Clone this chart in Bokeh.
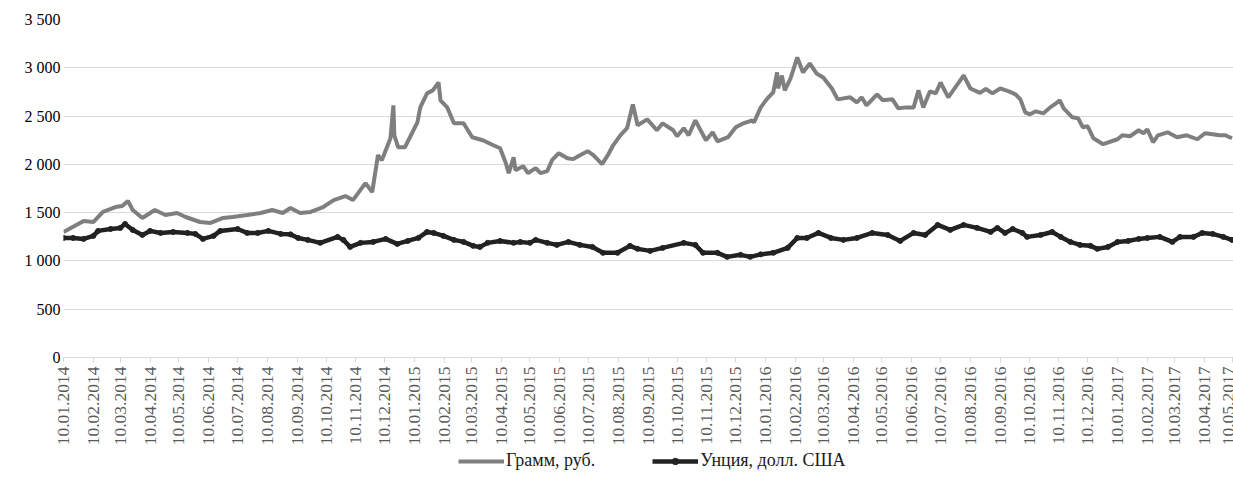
import pandas as pd
from math import pi
from bokeh.plotting import figure
from bokeh.layouts import column
from bokeh.models import (ColumnDataSource, FixedTicker, DatetimeTickFormatter,
                          Range1d, Legend, LegendItem)
from bokeh.embed import file_html
from bokeh.resources import INLINE

# ---------------- data ----------------
gram_dates = [
    "2014-01-10", "2014-01-31", "2014-02-10", "2014-02-20", "2014-03-05", "2014-03-12",
    "2014-03-18", "2014-03-23", "2014-04-02", "2014-04-15", "2014-04-26", "2014-05-08",
    "2014-05-17", "2014-06-01", "2014-06-12", "2014-06-25", "2014-07-05", "2014-07-20",
    "2014-08-03", "2014-08-15", "2014-08-26", "2014-09-03", "2014-09-13", "2014-09-24",
    "2014-10-07", "2014-10-18", "2014-10-30", "2014-11-07", "2014-11-20", "2014-11-27",
    "2014-12-03", "2014-12-07", "2014-12-16", "2014-12-19", "2014-12-20", "2014-12-24",
    "2014-12-31", "2015-01-13", "2015-01-16", "2015-01-23", "2015-01-29", "2015-02-04",
    "2015-02-06", "2015-02-13", "2015-02-20", "2015-03-02", "2015-03-11", "2015-03-22",
    "2015-04-02", "2015-04-09", "2015-04-15", "2015-04-18", "2015-04-23", "2015-04-25",
    "2015-05-03", "2015-05-08", "2015-05-16", "2015-05-21", "2015-05-28", "2015-06-02",
    "2015-06-09", "2015-06-18", "2015-06-24", "2015-07-01", "2015-07-09", "2015-07-15",
    "2015-07-24", "2015-07-30", "2015-08-04", "2015-08-12", "2015-08-19", "2015-08-25",
    "2015-08-30", "2015-09-09", "2015-09-19", "2015-09-25", "2015-10-06", "2015-10-10",
    "2015-10-17", "2015-10-22", "2015-10-29", "2015-11-09", "2015-11-16", "2015-11-21",
    "2015-12-02", "2015-12-10", "2015-12-18", "2015-12-27", "2015-12-29", "2016-01-05",
    "2016-01-12", "2016-01-18", "2016-01-22", "2016-01-23", "2016-01-27", "2016-01-30",
    "2016-02-05", "2016-02-12", "2016-02-18", "2016-02-25", "2016-03-03", "2016-03-10",
    "2016-03-19", "2016-03-25", "2016-04-07", "2016-04-14", "2016-04-19", "2016-04-24",
    "2016-05-05", "2016-05-11", "2016-05-21", "2016-05-27", "2016-06-05", "2016-06-12",
    "2016-06-17", "2016-06-22", "2016-06-29", "2016-07-05", "2016-07-10", "2016-07-18",
    "2016-07-29", "2016-08-03", "2016-08-10", "2016-08-20", "2016-08-26", "2016-09-02",
    "2016-09-10", "2016-09-19", "2016-09-26", "2016-10-01", "2016-10-06", "2016-10-11",
    "2016-10-17", "2016-10-25", "2016-11-01", "2016-11-07", "2016-11-11", "2016-11-15",
    "2016-11-24", "2016-11-30", "2016-12-05", "2016-12-10", "2016-12-16", "2016-12-26",
    "2017-01-10", "2017-01-15", "2017-01-23", "2017-02-01", "2017-02-06", "2017-02-10",
    "2017-02-16", "2017-02-21", "2017-03-03", "2017-03-13", "2017-03-23", "2017-04-03",
    "2017-04-11", "2017-04-19", "2017-04-26", "2017-05-02", "2017-05-09",
]
gram_rub = [
    1300, 1414, 1403, 1507, 1558, 1569,
    1620, 1527, 1445, 1527, 1476, 1496,
    1455, 1403, 1393, 1445, 1455, 1476,
    1496, 1527, 1496, 1548, 1496, 1507,
    1558, 1630, 1672, 1630, 1806, 1713,
    2095, 2043, 2270, 2611, 2301, 2177,
    2177, 2435, 2590, 2735, 2766, 2848,
    2663, 2590, 2425, 2425, 2281, 2250,
    2198, 2167, 2012, 1909, 2074, 1940,
    1981, 1909, 1961, 1909, 1930, 2043,
    2116, 2064, 2054, 2095, 2136, 2095,
    2002, 2095, 2188, 2301, 2374, 2621,
    2405, 2466, 2353, 2425, 2353, 2291,
    2374, 2301, 2456, 2250, 2332, 2239,
    2281, 2384, 2425, 2456, 2435, 2590,
    2683, 2745, 2952, 2786, 2920, 2766,
    2890, 3107, 2952, 3045, 2941, 2900,
    2786, 2673, 2694, 2642, 2694, 2611,
    2725, 2663, 2673, 2580, 2590, 2590,
    2766, 2590, 2756, 2735, 2848, 2694,
    2848, 2920, 2786, 2740, 2780, 2735,
    2786, 2756, 2725, 2673, 2539, 2518,
    2549, 2528, 2590, 2632, 2663, 2580,
    2487, 2477, 2384, 2394, 2270, 2209,
    2260, 2301, 2291, 2353, 2322, 2363,
    2229, 2301, 2332, 2281, 2301, 2260,
    2322, 2312, 2301, 2301, 2270,
]

ounce_dates = [
    "2014-01-10", "2014-01-20", "2014-01-31", "2014-02-10", "2014-02-15", "2014-02-28",
    "2014-03-10", "2014-03-15", "2014-03-23", "2014-04-02", "2014-04-10", "2014-04-21",
    "2014-05-04", "2014-05-19", "2014-05-27", "2014-06-04", "2014-06-15", "2014-06-22",
    "2014-07-10", "2014-07-20", "2014-07-31", "2014-08-11", "2014-08-24", "2014-09-03",
    "2014-09-11", "2014-09-21", "2014-10-04", "2014-10-22", "2014-10-28", "2014-11-04",
    "2014-11-15", "2014-11-28", "2014-12-11", "2014-12-23", "2015-01-03", "2015-01-14",
    "2015-01-23", "2015-01-30", "2015-02-09", "2015-02-20", "2015-03-02", "2015-03-12",
    "2015-03-19", "2015-03-27", "2015-04-09", "2015-04-23", "2015-04-30", "2015-05-10",
    "2015-05-16", "2015-05-28", "2015-06-07", "2015-06-19", "2015-07-01", "2015-07-14",
    "2015-07-25", "2015-08-09", "2015-08-22", "2015-08-30", "2015-09-12", "2015-09-25",
    "2015-10-17", "2015-10-29", "2015-11-06", "2015-11-21", "2015-12-01", "2015-12-15",
    "2015-12-25", "2016-01-05", "2016-01-18", "2016-02-02", "2016-02-12", "2016-02-22",
    "2016-03-05", "2016-03-18", "2016-03-31", "2016-04-14", "2016-04-30", "2016-05-16",
    "2016-05-29", "2016-06-12", "2016-06-24", "2016-07-07", "2016-07-20", "2016-08-03",
    "2016-08-17", "2016-08-31", "2016-09-07", "2016-09-15", "2016-09-23", "2016-10-03",
    "2016-10-08", "2016-10-22", "2016-11-03", "2016-11-12", "2016-11-22", "2016-12-02",
    "2016-12-13", "2016-12-20", "2016-12-31", "2017-01-10", "2017-01-21", "2017-02-01",
    "2017-02-10", "2017-02-23", "2017-03-08", "2017-03-16", "2017-03-30", "2017-04-08",
    "2017-04-19", "2017-04-30", "2017-05-09",
]
ounce_usd = [
    1238, 1238, 1228, 1259, 1311, 1331,
    1342, 1383, 1321, 1269, 1311, 1290,
    1300, 1290, 1280, 1228, 1259, 1311,
    1331, 1290, 1290, 1311, 1280, 1275,
    1238, 1218, 1187, 1249, 1218, 1145,
    1187, 1197, 1228, 1176, 1207, 1238,
    1300, 1290, 1259, 1218, 1197, 1156,
    1145, 1187, 1207, 1187, 1197, 1187,
    1218, 1187, 1166, 1197, 1166, 1145,
    1084, 1084, 1156, 1125, 1104, 1135,
    1187, 1166, 1084, 1084, 1042, 1063,
    1042, 1068, 1084, 1135, 1238, 1238,
    1290, 1238, 1218, 1238, 1290, 1269,
    1207, 1290, 1269, 1373, 1321, 1373,
    1342, 1300, 1342, 1290, 1331, 1290,
    1249, 1269, 1300, 1249, 1197, 1166,
    1156, 1125, 1145, 1197, 1207, 1228,
    1238, 1249, 1197, 1249, 1249, 1290,
    1280, 1249, 1218,
]

x_tick_dates = [
    "2014-01-10", "2014-02-10", "2014-03-10", "2014-04-10", "2014-05-10", "2014-06-10",
    "2014-07-10", "2014-08-10", "2014-09-10", "2014-10-10", "2014-11-10", "2014-12-10",
    "2015-01-10", "2015-02-10", "2015-03-10", "2015-04-10", "2015-05-10", "2015-06-10",
    "2015-07-10", "2015-08-10", "2015-09-10", "2015-10-10", "2015-11-10", "2015-12-10",
    "2016-01-10", "2016-02-10", "2016-03-10", "2016-04-10", "2016-05-10", "2016-06-10",
    "2016-07-10", "2016-08-10", "2016-09-10", "2016-10-10", "2016-11-10", "2016-12-10",
    "2017-01-10", "2017-02-10", "2017-03-10", "2017-04-10", "2017-05-10",
]
y_ticks = [0, 500, 1000, 1500, 2000, 2500, 3000, 3500]
y_tick_labels = ["0", "500", "1 000", "1 500", "2 000", "2 500", "3 000", "3 500"]

series_names = ["Грамм, руб.", "Унция, долл. США"]

GRAY = "#7f7f7f"
DARK = "#222222"

# ---------------- main figure ----------------
start = pd.Timestamp("2014-01-10")
end = start + pd.Timedelta(days=1216.6)

p = figure(width=1233, height=448, x_axis_type="datetime",
           x_range=Range1d(start, end), y_range=Range1d(0, 3500),
           output_backend="svg", toolbar_location=None,
           min_border_left=63, min_border_right=0, min_border_top=19,
           min_border_bottom=90)
p.outline_line_color = None
p.background_fill_color = "white"

src_g = ColumnDataSource(dict(x=pd.to_datetime(gram_dates), y=gram_rub))
src_o = ColumnDataSource(dict(x=pd.to_datetime(ounce_dates), y=ounce_usd))

p.line("x", "y", source=src_g, line_color=GRAY, line_width=4)
p.line("x", "y", source=src_o, line_color=DARK, line_width=4.5)
p.scatter("x", "y", source=src_o, marker="circle", size=5,
          fill_color=DARK, line_color=DARK)

# y axis
yax = p.yaxis[0]
yax.ticker = FixedTicker(ticks=y_ticks)
yax.major_label_overrides = {t: l for t, l in zip(y_ticks, y_tick_labels)}
yax.axis_line_color = None
yax.major_tick_line_color = None
yax.minor_tick_line_color = None
yax.major_tick_in = 0
yax.major_tick_out = 0
yax.major_label_standoff = 3
yax.major_label_text_font = "Liberation Serif"
yax.major_label_text_font_size = "16px"
yax.major_label_text_color = "#000000"

# x axis
xax = p.xaxis[0]
tick_ms = [pd.Timestamp(d).value // 10**6 for d in x_tick_dates]
xax.ticker = FixedTicker(ticks=tick_ms)
fmt = "%d.%m.%Y"
xax.formatter = DatetimeTickFormatter(
    microseconds=fmt, milliseconds=fmt, seconds=fmt, minsec=fmt, minutes=fmt,
    hourmin=fmt, hours=fmt, days=fmt, months=fmt, years=fmt)
xax.major_label_orientation = pi / 2
xax.axis_line_color = "#d9d9d9"
xax.major_tick_line_color = "#d9d9d9"
xax.major_tick_in = 0
xax.major_tick_out = 5
xax.minor_tick_line_color = None
xax.major_label_standoff = 4
xax.major_label_text_font = "Liberation Serif"
xax.major_label_text_font_size = "17.5px"
xax.major_label_text_color = "#595959"

# grid
p.xgrid.grid_line_color = None
p.ygrid.ticker = FixedTicker(ticks=y_ticks)
p.ygrid.grid_line_color = "#d9d9d9"
p.ygrid.grid_line_width = 1

# ---------------- legend strip (same sources, scrolled out of view) ----------------
lf = figure(width=1233, height=35, output_backend="svg", toolbar_location=None,
            x_range=Range1d(0, 1), y_range=Range1d(0, 1),
            min_border_left=0, min_border_right=0, min_border_top=0,
            min_border_bottom=0)
lf.axis.visible = False
lf.grid.visible = False
lf.outline_line_color = None

lg = lf.line("x", "y", source=src_g, line_color=GRAY, line_width=4)
lo = lf.line("x", "y", source=src_o, line_color=DARK, line_width=4.5)
ls = lf.scatter("x", "y", source=src_o, marker="circle", size=5,
                fill_color=DARK, line_color=DARK)

legend = Legend(items=[LegendItem(label=series_names[0], renderers=[lg]),
                       LegendItem(label=series_names[1], renderers=[lo, ls])],
                orientation="horizontal", location=(395, 12),
                border_line_color=None, background_fill_alpha=0,
                label_text_font="Liberation Serif", label_text_font_size="18px",
                label_text_color="#1a1a1a", glyph_width=46, glyph_height=16,
                label_standoff=2, spacing=57, padding=4, margin=0)
lf.add_layout(legend, "center")

layout = column(p, lf, spacing=0)
open("out.html", "w").write(file_html(layout, INLINE))
